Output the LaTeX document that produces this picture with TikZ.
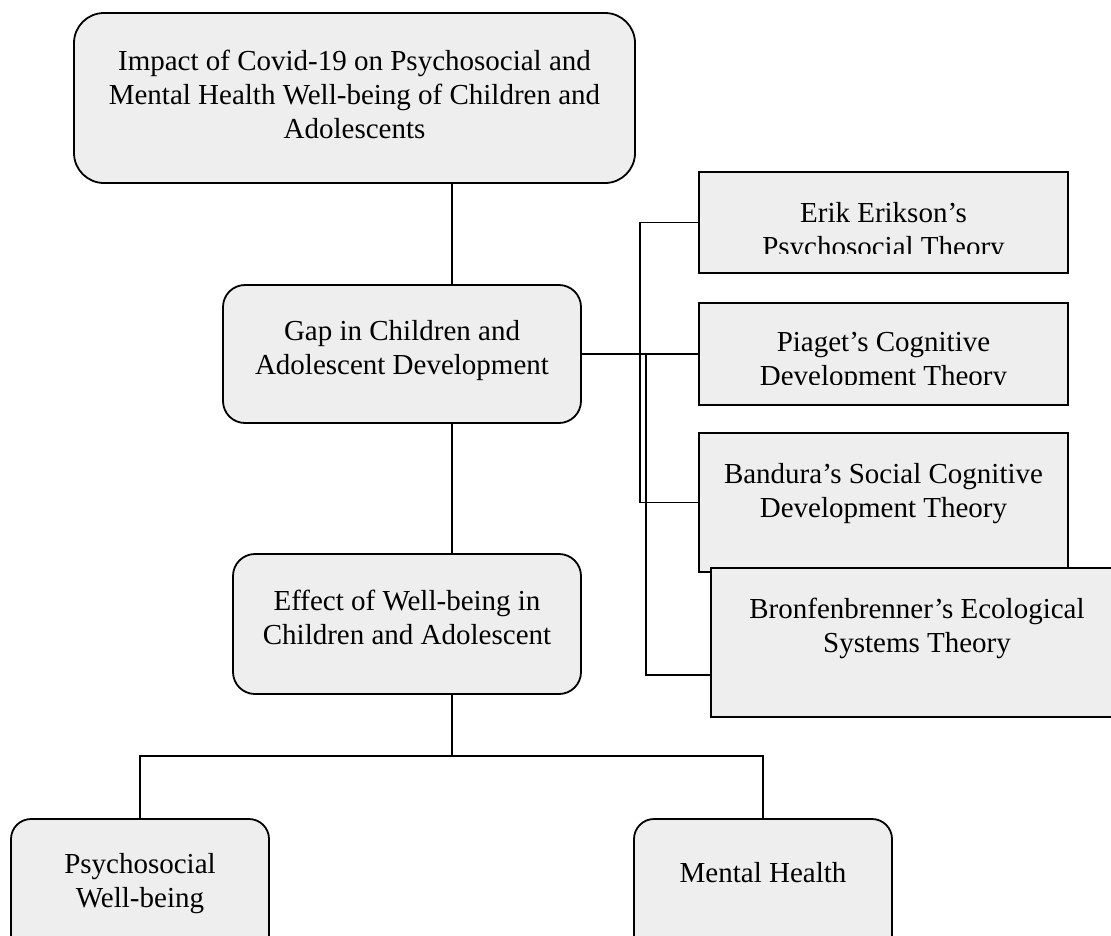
\documentclass[tikz,border=0pt]{standalone}
\usepackage{fontspec}
\setmainfont{Liberation Serif}
\definecolor{boxfill}{RGB}{238,238,238}
\begin{document}
\begin{tikzpicture}[x=1pt,y=-1pt,
  rbox/.style={draw=black, line width=1.8pt, fill=boxfill, rounded corners=#1, inner sep=0pt, outer sep=0pt},
  sbox/.style={draw=black, line width=1.8pt, fill=boxfill, inner sep=0pt, outer sep=0pt},
  txt/.style={anchor=north, align=center, inner sep=0pt, font=\fontsize{29}{34}\selectfont},
  conn/.style={draw=black, line width=1.5pt}]
\useasboundingbox (0,0) rectangle (1111,935);
\clip (0,0) rectangle (1111,935);

% junction coordinates
\coordinate (jx) at (452,0);
\coordinate (jb) at (452,756);
\coordinate (v1) at (640,354);
\coordinate (v2) at (646,354);
\coordinate (bj) at (711,675);

% connectors (drawn under the boxes)
\draw[conn] (354.5,183 -| jx) -- (452,285);
\draw[conn] (452,423) -- (452,554);
\draw[conn] (452,694) -- (jb);
\draw[conn] (140,819) |- (jb) -| (763,819);
\draw[conn, line width=2.6pt] (581,354) -- (v2);
\draw[conn] (699,222.5) -| (v1) |- (699,502.5);
\draw[conn] (v1) -- (699,354);
\draw[conn] (v2) |- (bj);

% boxes
\node[rbox=30pt, minimum width=561pt, minimum height=170pt] (top) at (354.5,98) {};
\node[rbox=22pt, minimum width=358pt, minimum height=138pt] (gap) at (402,354) {};
\node[rbox=22pt, minimum width=348pt, minimum height=140pt] (eff) at (407,624) {};
\node[rbox=20pt, minimum width=258pt, minimum height=160pt] (psy) at (140,899) {};
\node[rbox=20pt, minimum width=258pt, minimum height=160pt] (men) at (763,899) {};
\node[sbox, minimum width=369pt, minimum height=101pt] (eri) at (883.5,222.5) {};
\node[sbox, minimum width=369pt, minimum height=102pt] (pia) at (883.5,354) {};
\node[sbox, minimum width=369pt, minimum height=139pt] (ban) at (883.5,502.5) {};
\node[sbox, minimum width=412pt, minimum height=149pt] (bro) at (917,642.5) {};

% texts
\node[txt] (top-t) at (354.5,50) {Impact of Covid-19 on Psychosocial and\\Mental Health Well-being of Children and\\Adolescents};
\node[txt] (gap-t) at (402,320) {Gap in Children and\\Adolescent Development};
\node[txt] (eff-t) at (407,590) {Effect of Well-being in\\Children and Adolescent};
\node[txt] (psy-t) at (140,853) {Psychosocial\\Well-being};
\node[txt] (men-t) at (763,862) {Mental Health};
\begin{scope}
\clip (699,172) rectangle (1068,253);
\node[txt] (eri-t) at (883.5,202) {Erik Erikson’s\\Psychosocial Theory};
\end{scope}
\begin{scope}
\clip (699,303) rectangle (1068,384);
\node[txt] (pia-t) at (883.5,332) {Piaget’s Cognitive\\Development Theory};
\end{scope}
\node[txt] (ban-t) at (883.5,463) {Bandura’s Social Cognitive\\Development Theory};
\node[txt] (bro-t) at (917,598) {Bronfenbrenner’s Ecological\\Systems Theory};
\end{tikzpicture}
\end{document}
